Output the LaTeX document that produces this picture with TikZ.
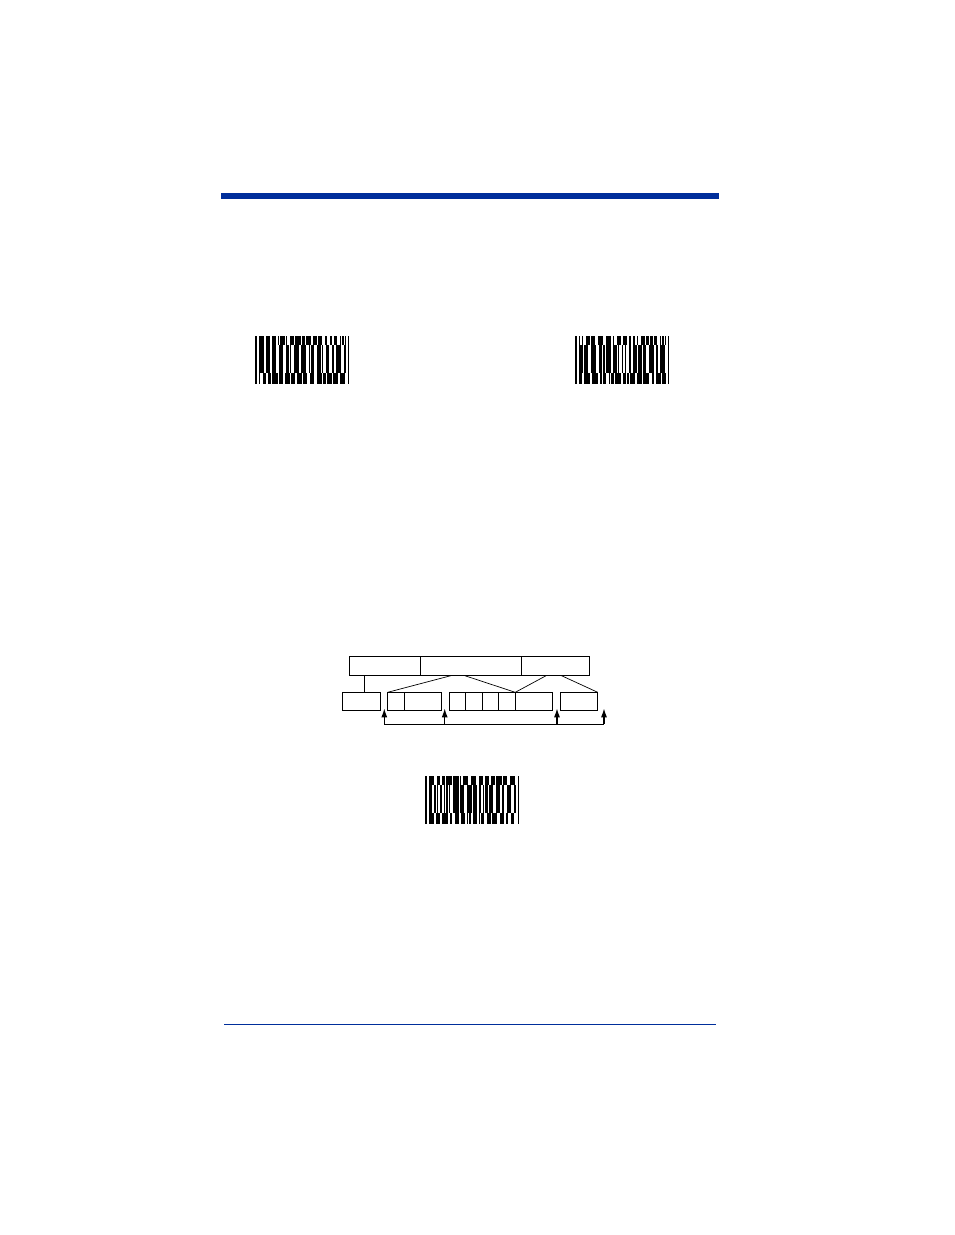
\documentclass[tikz,border=0pt]{standalone}
\usetikzlibrary{arrows.meta,calc,positioning}
\definecolor{hhblue}{RGB}{0,46,155}
\tikzset{%
	field/.style    = {draw, rectangle, inner sep=0pt, outer sep=0pt, minimum height=19pt, line width=0.8pt}, % upper row
	slot/.style     = {draw, rectangle, inner sep=0pt, outer sep=0pt, minimum height=18pt, line width=0.8pt}, % lower row
	link/.style     = {line width=0.7pt}, % field to slot
	pointer/.style  = {line width=1.3pt, -{Latex[length=9pt,width=6pt]}}, % arrow up
}
% one band of bars between y #1 and y #2
\newcommand{\barband}[2]{%
	\xdef\xpos{4}
	\foreach \j in {1,...,40}{
		\pgfmathsetmacro\wb{(1+int(rnd*4))*1.3429}
		\pgfmathsetmacro\ws{(1+int(rnd*1.8))*1.3429}
		\pgfmathsetmacro\xe{min(\xpos+\wb,90.5)}
		\ifdim\xpos pt<90pt \fill (\xpos,#1) rectangle (\xe,#2); \fi
		\pgfmathsetmacro\xn{\xpos+\wb+\ws}
		\xdef\xpos{\xn}
	}}
% stacked bar code: x, y, seed
\newcommand{\stackedcode}[3]{%
	\begin{scope}[shift={(#1,#2)}]
		\pgfmathsetseed{#3}
		\fill (0,0) rectangle (1.5,48);
		\fill (92.5,0) rectangle (94,48);
		\barband{0}{9.2}
		\barband{9}{37.2}
		\barband{37}{48}
	\end{scope}}

\begin{document}
\begin{tikzpicture}[x=1pt, y=-1pt]
	\useasboundingbox (0,0) rectangle (954,1235);
	% page rules
	\fill[hhblue] (221,193) rectangle (719,199);
	\draw[hhblue, line width=1pt] (224,1024) -- (716,1024);
	
	% bar codes
	\stackedcode{255}{336}{17}
	\stackedcode{575}{336}{42}
	\stackedcode{425}{776}{73}
	
	% upper row
	\node[field, minimum width=71pt, anchor=north west] (tl) at (349.3,656.7) {};
	\node[field, minimum width=101.4pt, right=0pt of tl] (tm) {};
	\node[field, minimum width=67.6pt, right=0pt of tm] (tr) {};
	
	% lower row
	\node[slot, minimum width=37.7pt, anchor=north west] (b1) at (342.3,692.3) {};
	\node[slot, minimum width=16.3pt, anchor=north west] (b2a) at (387.7,692.3) {};
	\node[slot, minimum width=37.7pt, right=0pt of b2a] (b2b) {};
	\node[slot, minimum width=16pt, anchor=north west] (b3a) at (449.3,692.3) {};
	\node[slot, minimum width=17pt, right=0pt of b3a] (b3b) {};
	\node[slot, minimum width=16.4pt, right=0pt of b3b] (b3c) {};
	\node[slot, minimum width=16.6pt, right=0pt of b3c] (b3d) {};
	\node[slot, minimum width=37pt, right=0pt of b3d] (b3e) {};
	\node[slot, minimum width=37.4pt, anchor=north west] (b4) at (560.3,692.3) {};
	
	\draw[link] ($(b1.north)+(2.8,0)$) -- ($(b1.north |- tl.south)+(2.8,0)$);
	\draw[link] ($(tm.south west)!0.3!(tm.south east)$) -- (b2a.north west);
	\draw[link] ($(tm.south west)!0.44!(tm.south east)$) -- (b3e.north west);
	\draw[link] ($(tr.south west)!0.36!(tr.south east)$) -- (b3e.north west);
	\draw[link] ($(tr.south west)!0.59!(tr.south east)$) -- (b4.north east);
	
	% pointers
	\coordinate (q1) at (384.3,724.3);
	\coordinate (q2) at (444.7,724.3);
	\coordinate (q3) at (557,724.3);
	\coordinate (q4) at (604,724.3);
	\draw[line width=1.2pt] (q1) -- (q4);
	\foreach \i in {1,...,4}
		\draw[pointer] (q\i) -- ($(q\i |- b1.south)+(0,-2)$);
	
\end{tikzpicture}
\end{document}
